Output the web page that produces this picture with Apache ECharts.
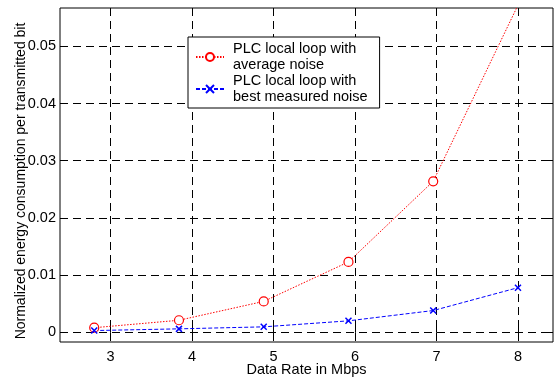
<!DOCTYPE html>
<html>
<head>
<meta charset="utf-8">
<script src="https://cdn.jsdelivr.net/npm/echarts@6/dist/echarts.min.js"></script>
<style>
  html, body { margin: 0; padding: 0; background: #fff; }
  #main { width: 556px; height: 380px; }
</style>
</head>
<body>
<div id="main"></div>
<script>
// data
const rates = [2.8, 3.84, 4.88, 5.92, 6.96, 8];
const avgNoise = [0.0008, 0.0021, 0.0054, 0.0123, 0.0264, 0.0572];
const bestNoise = [0.0003, 0.0006, 0.00095, 0.002, 0.0038, 0.0078];
const xTicks = [3, 4, 5, 6, 7, 8];
const yTicks = [0, 0.01, 0.02, 0.03, 0.04, 0.05];

const font = 'Liberation Sans';
const fs = 14.5;
let myChart = echarts.init(document.getElementById('main'));

const gridLine = { show: true, lineStyle: { color: '#000', type: [8, 5], width: 1 } };
const tick = { inside: true, length: 5, lineStyle: { color: '#000' } };

let option = {
  animation: false,
  textStyle: { fontFamily: font },
  grid: {
    left: 60, top: 8, right: 3, bottom: 38,
    outerBoundsMode: 'none', containLabel: false,
    show: true, borderColor: '#000', borderWidth: 1
  },
  legend: {
    left: 188, top: 37,
    orient: 'vertical',
    backgroundColor: '#fff',
    borderColor: '#000', borderWidth: 1,
    padding: [-4, 12, -5, 7],
    itemWidth: 28, itemHeight: 10, itemGap: -16,
    textStyle: { fontSize: fs, color: '#000', lineHeight: 16, padding: [16, 0, 0, 4] },
    formatter: function (name) {
      return name === 'avg' ? 'PLC local loop with\naverage noise' : 'PLC local loop with\nbest measured noise';
    },
    data: ['avg', 'best']
  },
  xAxis: [{
    type: 'value', min: 2.38, max: 8.43,
    name: 'Data Rate in Mbps', nameLocation: 'middle', nameGap: 20, nameMoveOverlap: false,
    nameTextStyle: { fontSize: fs, color: '#000' },
    axisLine: { show: false },
    axisTick: Object.assign({ customValues: xTicks }, tick),
    axisLabel: { customValues: xTicks, fontSize: fs, color: '#000', margin: 7 },
    splitLine: gridLine
  }, {
    type: 'value', min: 2.38, max: 8.43, position: 'top',
    axisLine: { show: false },
    axisTick: Object.assign({ customValues: xTicks }, tick),
    axisLabel: { show: false }, splitLine: { show: false }
  }],
  yAxis: [{
    type: 'value', min: -0.0017, max: 0.0567,
    name: 'Normalized energy consumption per transmitted bit', nameLocation: 'middle', nameGap: 32, nameMoveOverlap: false,
    nameTextStyle: { fontSize: 14, color: '#000', padding: [0, 12, 0, 0] },
    axisLine: { show: false },
    axisTick: Object.assign({ customValues: yTicks }, tick),
    axisLabel: { customValues: yTicks, fontSize: fs, color: '#000', margin: 4 },
    splitLine: gridLine
  }, {
    type: 'value', min: -0.0017, max: 0.0567, position: 'right',
    axisLine: { show: false },
    axisTick: Object.assign({ customValues: yTicks }, tick),
    axisLabel: { show: false }, splitLine: { show: false }
  }],
  series: [{
    name: 'avg', type: 'line',
    data: rates.map((r, i) => [r, avgNoise[i]]),
    symbol: 'circle', symbolSize: 9,
    itemStyle: { color: '#fff', borderColor: '#ff0000', borderWidth: 1.2 },
    lineStyle: { color: '#ff0000', type: [1.5, 1.5], width: 1 },
    clip: true
  }, {
    name: 'best', type: 'line',
    data: rates.map((r, i) => [r, bestNoise[i]]),
    symbol: 'path://M0,0L10,10M10,0L0,10', symbolSize: 6,
    itemStyle: { color: '#0000ff', borderColor: '#0000ff', borderWidth: 1.5 },
    lineStyle: { color: '#0000ff', type: [4, 2], width: 1 },
    clip: true
  }]
};
myChart.setOption(option);
</script>
</body>
</html>
